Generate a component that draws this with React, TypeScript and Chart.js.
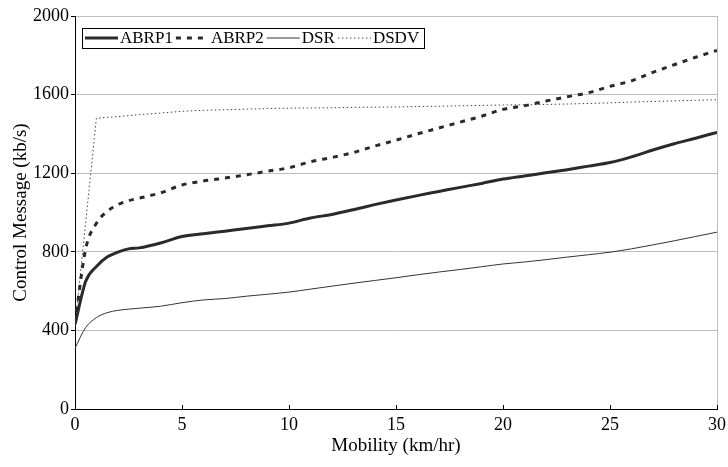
import React, { useEffect, useRef } from "react";
import { Chart, registerables } from "chart.js";

Chart.register(...registerables);

const mobility = [0, 0.5, 1, 1.5, 2, 2.5, 3, 4, 5, 6, 7, 8, 9, 10, 11, 12, 13, 14, 15, 16, 17, 18, 19, 20, 21, 22, 23, 24, 25, 26, 27, 28, 29, 30];
const abrp1 = [430, 650, 725, 773, 798, 815, 820, 845, 878, 892, 905, 918, 932, 946, 972, 990, 1014, 1040, 1064, 1086, 1107, 1128, 1148, 1170, 1186, 1202, 1218, 1236, 1254, 1283, 1318, 1350, 1378, 1408];
const abrp2 = [440, 815, 945, 1005, 1040, 1060, 1073, 1100, 1140, 1160, 1175, 1192, 1210, 1228, 1258, 1280, 1305, 1338, 1368, 1400, 1430, 1460, 1490, 1525, 1543, 1567, 1589, 1610, 1642, 1670, 1713, 1752, 1790, 1825];
const dsr = [310, 415, 465, 490, 502, 508, 513, 523, 541, 555, 562, 574, 584, 595, 610, 625, 640, 654, 668, 683, 697, 710, 724, 738, 748, 760, 773, 785, 798, 815, 835, 856, 878, 900];
const dsdv = [420, 950, 1480, 1484, 1488, 1493, 1498, 1506, 1515, 1520, 1523, 1526, 1529, 1531, 1532, 1533, 1535, 1536, 1537, 1539, 1541, 1543, 1545, 1547, 1548, 1550, 1552, 1555, 1558, 1562, 1565, 1568, 1571, 1574];

const seriesLabels = ["ABRP1", "ABRP2", "DSR", "DSDV"];
const xTicks = [0, 5, 10, 15, 20, 25, 30];
const yTicks = [0, 400, 800, 1200, 1600, 2000];

const FONT = "'Liberation Serif', 'Times New Roman', serif";

const toPoints = (ys: number[]) => ys.map((y, i) => ({ x: mobility[i], y }));

const framePlugin = {
  id: "frameAndLegend",
  afterDatasetsDraw(chart: any) {
    const { ctx, chartArea } = chart;
    const xs = chart.scales.x;
    ctx.save();
    ctx.strokeStyle = "#bdbdbd";
    ctx.lineWidth = 1;
    ctx.beginPath();
    ctx.moveTo(Math.round(chartArea.right) + 0.5, chartArea.top);
    ctx.lineTo(Math.round(chartArea.right) + 0.5, chartArea.bottom);
    ctx.stroke();
    ctx.strokeStyle = "#000";
    xs.ticks.forEach((t: any) => {
      const px = Math.round(xs.getPixelForValue(t.value)) + 0.5;
      ctx.beginPath();
      ctx.moveTo(px, chartArea.bottom);
      ctx.lineTo(px, chartArea.bottom - 4);
      ctx.stroke();
    });
    const boxLeft = chartArea.left + 7;
    const boxTop = chartArea.top + 12;
    const boxH = 20;
    const midY = boxTop + boxH / 2;
    ctx.font = "17px " + FONT;
    ctx.textBaseline = "middle";
    let x = boxLeft + 3;
    chart.data.datasets.forEach((ds: any) => {
      ctx.save();
      ctx.strokeStyle = ds.borderColor;
      ctx.lineWidth = ds.borderWidth;
      ctx.setLineDash(ds.borderDash || []);
      ctx.beginPath();
      ctx.moveTo(x, midY);
      ctx.lineTo(x + 33, midY);
      ctx.stroke();
      ctx.restore();
      x += 35;
      ctx.fillStyle = "#000";
      ctx.fillText(ds.label, x, midY + 1);
      x += ctx.measureText(ds.label).width + 3;
    });
    ctx.strokeStyle = "#000";
    ctx.lineWidth = 1;
    ctx.setLineDash([]);
    ctx.strokeRect(Math.round(boxLeft) + 0.5, Math.round(boxTop) + 0.5, Math.round(x + 2 - boxLeft), boxH);
    ctx.restore();
  },
};

export default function App() {
  const ref = useRef<HTMLCanvasElement>(null);
  useEffect(() => {
    document.body.style.margin = "0";
    const canvas = ref.current!;
    const chart = new Chart(canvas, {
      type: "line",
      data: {
        datasets: [
          { label: seriesLabels[0], data: toPoints(abrp1), borderColor: "#2a2a2a", borderWidth: 3, cubicInterpolationMode: "monotone" },
          { label: seriesLabels[1], data: toPoints(abrp2), borderColor: "#2a2a2a", borderWidth: 3, borderDash: [5, 6], cubicInterpolationMode: "monotone" },
          { label: seriesLabels[2], data: toPoints(dsr), borderColor: "#333", borderWidth: 1, cubicInterpolationMode: "monotone" },
          { label: seriesLabels[3], data: toPoints(dsdv), borderColor: "#444", borderWidth: 1, borderDash: [1.5, 2.5], tension: 0 },
        ] as any,
      },
      options: {
        animation: false,
        responsive: false,
        devicePixelRatio: 1,
        layout: { padding: { left: 0, right: 11, top: 16, bottom: 0 } },
        elements: { point: { radius: 0 }, line: { fill: false } },
        plugins: { legend: { display: false }, tooltip: { enabled: false } },
        scales: {
          x: {
            type: "linear",
            min: 0,
            max: 30,
            afterBuildTicks: (s: any) => { s.ticks = xTicks.map((v) => ({ value: v })); },
            afterFit: (s: any) => { s.height = 58; s.paddingLeft = 0; s.paddingRight = 0; },
            ticks: { font: { family: FONT, size: 18 }, color: "#000", padding: 5, callback: (v: any) => String(v) },
            grid: { drawOnChartArea: false, drawTicks: false },
            border: { color: "#000", width: 1 },
            title: { display: true, text: "Mobility (km/hr)", font: { family: FONT, size: 19 }, color: "#000", padding: { top: 0, bottom: 10 } },
          },
          y: {
            min: 0,
            max: 2000,
            afterBuildTicks: (s: any) => { s.ticks = yTicks.map((v) => ({ value: v })); },
            afterFit: (s: any) => { s.width = 75; s.paddingTop = 0; s.paddingBottom = 0; },
            ticks: { font: { family: FONT, size: 18 }, color: "#000", padding: 2, callback: (v: any) => String(v) },
            grid: { color: "#bdbdbd", tickColor: "#000", tickLength: 4, lineWidth: 1 },
            border: { color: "#000", width: 1 },
            title: { display: true, text: "Control Message (kb/s)", font: { family: FONT, size: 19 }, color: "#000", padding: { top: 10, bottom: 0 } },
          },
        },
      },
      plugins: [framePlugin],
    });
    return () => chart.destroy();
  }, []);
  return (
    <div style={{ width: 728, height: 467 }}>
      <canvas ref={ref} width={728} height={467} />
    </div>
  );
}
